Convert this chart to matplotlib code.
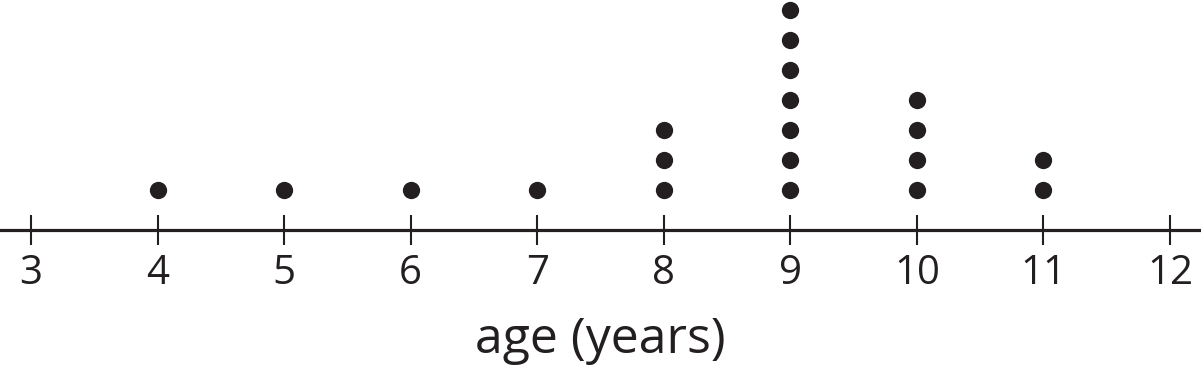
import matplotlib.pyplot as plt

# dot plot: ages and how many dots sit above each one
ages = [4, 5, 6, 7, 8, 9, 10, 11]
counts = [1, 1, 1, 1, 3, 7, 4, 2]
tick_values = [3, 4, 5, 6, 7, 8, 9, 10, 11, 12]
x_label = 'age (years)'

plt.rcParams['font.family'] = ['Open Sans', 'DejaVu Sans']
ink = '#231f20'

fig = plt.figure(figsize=(12.01, 3.66), dpi=100)
ax = fig.add_axes([0, 0, 1, 1])

xs = []
ys = []
for age, n in zip(ages, counts):
    for k in range(1, n + 1):
        xs.append(age)
        ys.append(k)
ax.scatter(xs, ys, s=155, color=ink, linewidths=0, zorder=3)

ax.set_xlim(2.755, 12.245)
ax.set_ylim(-4.867, 7.333)

for side in ['left', 'right', 'top']:
    ax.spines[side].set_visible(False)
ax.spines['bottom'].set_position(('data', -0.333))
ax.spines['bottom'].set_linewidth(2.3)
ax.spines['bottom'].set_color(ink)

ax.set_yticks([])
ax.set_xticks(tick_values)
ax.set_xticklabels([str(t) for t in tick_values])
ax.tick_params(axis='x', direction='inout', length=21.5, width=1.5, color=ink,
               labelsize=29, labelcolor=ink, pad=6)
ax.set_xlabel(x_label, fontsize=36, color=ink, labelpad=16)
ax.patch.set_alpha(0)

fig.savefig('out.png', dpi=100)
